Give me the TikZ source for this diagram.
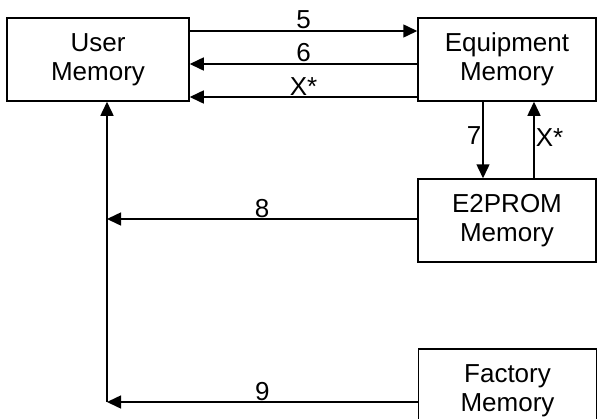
\documentclass[tikz,border=0pt]{standalone}
\usepackage{fontspec}
\setmainfont{Liberation Sans}
\usetikzlibrary{arrows.meta}
\begin{document}
\begin{tikzpicture}[x=1pt,y=-1pt,
  box/.style={draw,line width=1.5pt,minimum height=83pt,inner sep=0pt,align=center,font=\fontsize{26}{29}\selectfont},
  arr/.style={line width=1.5pt,-{Triangle[length=14pt,width=13pt]}},
  lab/.style={font=\fontsize{26}{29}\selectfont,inner sep=1pt}]
\clip (0,0) rectangle (597,418);
\useasboundingbox (0,0) rectangle (597,418);
\fill[white] (0,0) rectangle (597,418);
\node[box,minimum width=182pt] (um) at (98,59.5) {User\\Memory};
\node[box,minimum width=178pt] (eq) at (507,59.5) {Equipment\\Memory};
\node[box,minimum width=178pt] (ee) at (507,220.5) {E2PROM\\Memory};
\node[box,minimum width=178pt] (fm) at (507.5,390.5) {Factory\\Memory};
\coordinate (j8) at (107,219);
\coordinate (j9) at (107,402);
\draw[arr] (um.east |- 0,31) -- node[lab,above]{5} (eq.west |- 0,31);
\draw[arr] (eq.west |- 0,64) -- node[lab,above]{6} (um.east |- 0,64);
\draw[arr] (eq.west |- 0,97) -- node[lab,above]{X*} (um.east |- 0,97);
\draw[arr] (eq.south -| 483,0) -- node[lab,left,yshift=4pt]{7} (ee.north -| 483,0);
\draw[arr] (ee.north -| 534,0) -- node[lab,right,yshift=2pt]{X*} (eq.south -| 534,0);
\draw[arr] (ee.west |- j8) -- node[lab,above]{8} (j8);
\draw[arr] (fm.west |- j9) -- node[lab,above]{9} (j9);
\draw[arr] (j9) -- (um.south -| j9);
\end{tikzpicture}
\end{document}
